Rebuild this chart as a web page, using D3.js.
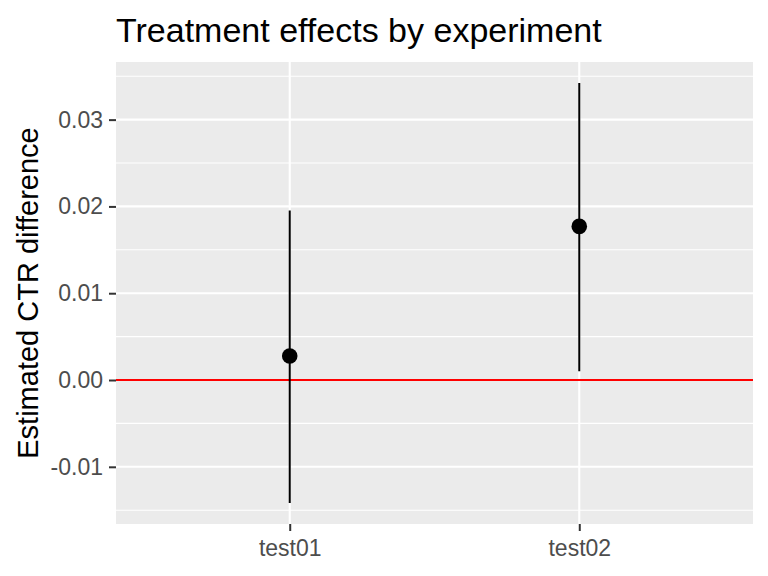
<!DOCTYPE html>
<html>
<head>
<meta charset="utf-8">
<script src="https://cdn.jsdelivr.net/npm/d3@7"></script>
<style>
  html, body { margin: 0; padding: 0; background: #ffffff; }
  svg { display: block; }
  text { font-family: "Liberation Sans", Arial, sans-serif; }
</style>
</head>
<body>
<svg id="chart" width="768" height="576"></svg>
<script>
// ---- data ----
const experiments = ["test01", "test02"];
const estimates = [0.00276, 0.0177];
const lowerBounds = [-0.01417, 0.0010];
const upperBounds = [0.01954, 0.03422];
const yTickValues = [-0.01, 0.00, 0.01, 0.02, 0.03];
const yMinorValues = [-0.015, -0.005, 0.005, 0.015, 0.025, 0.035];
const referenceLine = [0];
const chartTitle = "Treatment effects by experiment";
const yAxisTitle = "Estimated CTR difference";

// ---- layout ----
const panel = { left: 116, right: 753, top: 62, bottom: 524 };

const svg = d3.select("#chart");

const lo = d3.min(lowerBounds), hi = d3.max(upperBounds);
const pad = (hi - lo) * 0.05;
const y = d3.scaleLinear().domain([lo - pad, hi + pad]).range([panel.bottom, panel.top]);
const x = d3.scalePoint().domain(experiments).range([panel.left, panel.right]).padding(0.6);

// panel background
svg.append("rect")
  .attr("x", panel.left).attr("y", panel.top)
  .attr("width", panel.right - panel.left).attr("height", panel.bottom - panel.top)
  .attr("fill", "#EBEBEB");

// minor grid
svg.append("g").selectAll("line").data(yMinorValues).join("line")
  .attr("x1", panel.left).attr("x2", panel.right)
  .attr("y1", d => y(d)).attr("y2", d => y(d))
  .attr("stroke", "#ffffff").attr("stroke-width", 1.1);

// major grid horizontal
svg.append("g").selectAll("line").data(yTickValues).join("line")
  .attr("x1", panel.left).attr("x2", panel.right)
  .attr("y1", d => y(d)).attr("y2", d => y(d))
  .attr("stroke", "#ffffff").attr("stroke-width", 2.1);

// major grid vertical
svg.append("g").selectAll("line").data(experiments).join("line")
  .attr("x1", d => x(d)).attr("x2", d => x(d))
  .attr("y1", panel.top).attr("y2", panel.bottom)
  .attr("stroke", "#ffffff").attr("stroke-width", 2.1);

// reference line
svg.append("g").selectAll("line").data(referenceLine).join("line")
  .attr("x1", panel.left).attr("x2", panel.right)
  .attr("y1", d => y(d)).attr("y2", d => y(d))
  .attr("stroke", "#FF0000").attr("stroke-width", 2);

// error ranges
const rows = experiments.map((e, i) => ({ e, est: estimates[i], lo: lowerBounds[i], hi: upperBounds[i] }));
svg.append("g").selectAll("line").data(rows).join("line")
  .attr("x1", d => x(d.e)).attr("x2", d => x(d.e))
  .attr("y1", d => y(d.lo)).attr("y2", d => y(d.hi))
  .attr("stroke", "#000000").attr("stroke-width", 2);

// points
svg.append("g").selectAll("circle").data(rows).join("circle")
  .attr("cx", d => x(d.e)).attr("cy", d => y(d.est))
  .attr("r", 7.8).attr("fill", "#000000");

// y axis
const fmt = d3.format(".2f");
const yAxis = d3.axisLeft(y).tickValues(yTickValues)
  .tickFormat(d => fmt(d).replace("\u2212", "-"))
  .tickSize(7).tickPadding(6);
const gy = svg.append("g").attr("transform", `translate(${panel.left},0)`).call(yAxis);
gy.select(".domain").remove();
gy.selectAll(".tick line").attr("stroke", "#333333").attr("stroke-width", 2);
gy.selectAll(".tick text").attr("fill", "#4D4D4D").style("font-size", "23px")
  .attr("font-family", "Liberation Sans, Arial, sans-serif");

// x axis
const xAxis = d3.axisBottom(x).tickSize(7).tickPadding(9);
const gx = svg.append("g").attr("transform", `translate(0,${panel.bottom})`).call(xAxis);
gx.select(".domain").remove();
gx.selectAll(".tick line").attr("stroke", "#333333").attr("stroke-width", 2);
gx.selectAll(".tick text").attr("fill", "#4D4D4D").style("font-size", "23px")
  .attr("font-family", "Liberation Sans, Arial, sans-serif");

// y axis title
svg.append("text")
  .attr("transform", `translate(38,${(panel.top + panel.bottom) / 2}) rotate(-90)`)
  .attr("text-anchor", "middle")
  .attr("fill", "#000000")
  .style("font-size", "29px")
  .text(yAxisTitle);

// title
svg.append("text")
  .attr("x", 116).attr("y", 41.5)
  .attr("fill", "#000000")
  .style("font-size", "34px")
  .text(chartTitle);
</script>
</body>
</html>
